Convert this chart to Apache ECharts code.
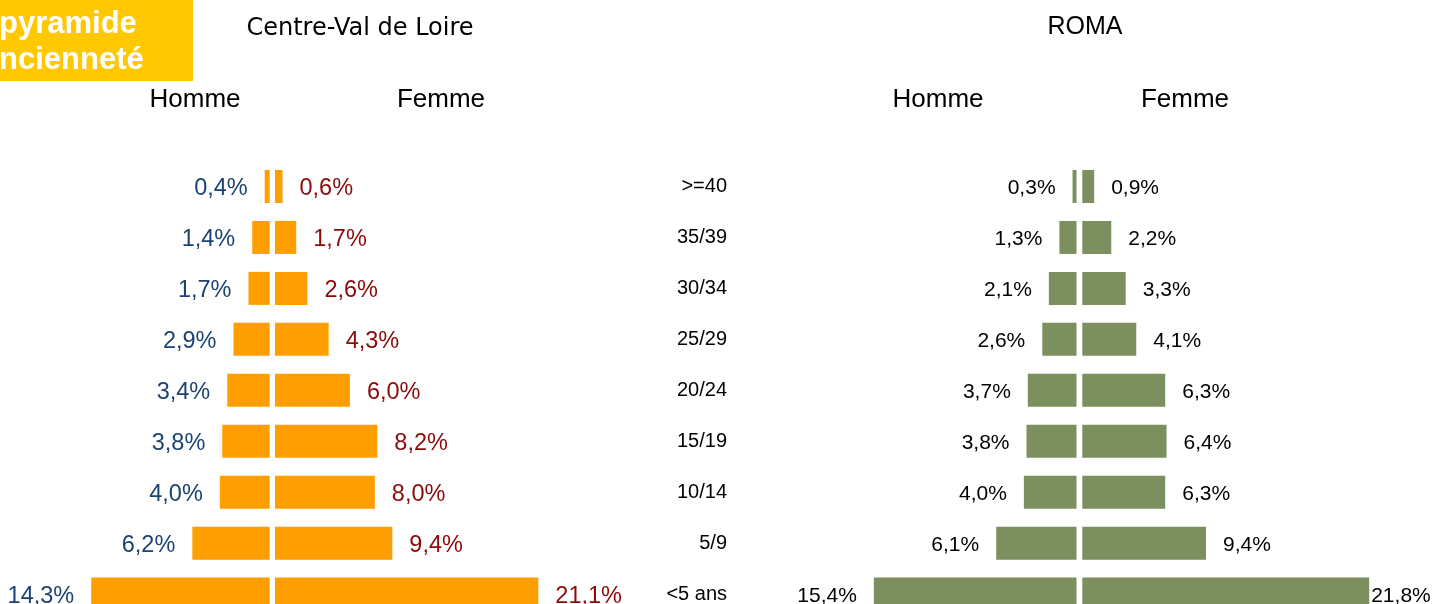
<html lang="fr">
<head>
  <meta charset="UTF-8">
  <title>pyramide ancienneté</title>
  <style>
    html, body { margin: 0; padding: 0; background: #fff; }
    #chart { width: 1449px; height: 604px; }
  </style>
</head>
<body>
  <div id="chart"></div>
  <script src="https://cdn.jsdelivr.net/npm/echarts@6/dist/echarts.min.js"></script>
  <script>
    var categories = ['>=40', '35/39', '30/34', '25/29', '20/24', '15/19', '10/14', '5/9', '<5 ans']
    var cvlHommes = [0.4, 1.4, 1.7, 2.9, 3.4, 3.8, 4.0, 6.2, 14.3]
    var cvlFemmes = [0.6, 1.7, 2.6, 4.3, 6.0, 8.2, 8.0, 9.4, 21.1]
    var romaHommes = [0.3, 1.3, 2.1, 2.6, 3.7, 3.8, 4.0, 6.1, 15.4]
    var romaFemmes = [0.9, 2.2, 3.3, 4.1, 6.3, 6.4, 6.3, 9.4, 21.8]

    var orange = '#FF9E00'
    var green = '#7B8F5F'

    function pct(p) {
      return p.value.toFixed(1).replace('.', ',') + '%'
    }

    // the last row is cut by the bottom edge, so the grids run past it
    var gridTop = 161, gridHeight = 458.6
    var grids = [
      { left: 20.1, width: 249.6 },
      { left: 275, width: 312 },
      { left: 813.3, width: 263.2 },
      { left: 1082.3, width: 329 }
    ].map(function (g) {
      g.top = gridTop
      g.height = gridHeight
      g.outerBoundsMode = 'none'
      return g
    })
    var maxes = [20, 25, 20, 25]

    var xAxes = grids.map(function (g, i) {
      return {
        type: 'value', gridIndex: i, min: 0, max: maxes[i],
        inverse: i % 2 === 0,
        show: false
      }
    })
    var yAxes = grids.map(function (g, i) {
      var ax = {
        type: 'category', gridIndex: i, data: categories, inverse: true,
        axisLine: { show: false }, axisTick: { show: false },
        axisLabel: { show: false }, splitLine: { show: false }
      }
      if (i === 1) {
        ax.position = 'right'
        ax.axisLabel = {
          show: true, align: 'right', margin: 140, padding: [4, 0, 0, 0],
          color: '#000', fontSize: 20, fontFamily: 'Liberation Sans'
        }
      }
      return ax
    })

    function barSeries(idx, data, color, labelColor, fontSize, side) {
      return {
        type: 'bar', xAxisIndex: idx, yAxisIndex: idx,
        data: data, barWidth: 33,
        itemStyle: { color: color },
        label: {
          show: true, position: side, distance: 17, offset: [0, 2],
          formatter: pct, color: labelColor, fontSize: fontSize,
          fontFamily: 'Liberation Sans'
        },
        silent: true
      }
    }

    var romaF = barSeries(3, romaFemmes, green, '#000', 21, 'right')
    // last label sits against the bar end in the original
    romaF.data = romaFemmes.map(function (v, i) {
      return i === romaFemmes.length - 1 ? { value: v, label: { distance: 2 } } : v
    })

    var headFont = '26px "Liberation Sans"'
    var option = {
      animation: false,
      grid: grids,
      xAxis: xAxes,
      yAxis: yAxes,
      series: [
        barSeries(0, cvlHommes, orange, '#1A4373', 23.5, 'left'),
        barSeries(1, cvlFemmes, orange, '#8B0A0A', 23.5, 'right'),
        barSeries(2, romaHommes, green, '#000', 21, 'left'),
        romaF
      ],
      graphic: [
        { type: 'rect', left: 0, top: 0, shape: { width: 193, height: 81 }, style: { fill: '#FFC800' } },
        { type: 'text', x: -1, y: 24, style: { text: 'pyramide', fill: '#fff', font: 'bold 31px "Liberation Sans"', verticalAlign: 'middle' } },
        { type: 'text', x: -1, y: 60, style: { text: 'ncienneté', fill: '#fff', font: 'bold 31px "Liberation Sans"', verticalAlign: 'middle' } },
        { type: 'text', x: 360, y: 29, style: { text: 'Centre-Val de Loire', fill: '#000', font: '24px "DejaVu Sans"', align: 'center', verticalAlign: 'middle' } },
        { type: 'text', x: 1085, y: 27, style: { text: 'ROMA', fill: '#000', font: '25px "Liberation Sans"', align: 'center', verticalAlign: 'middle' } },
        { type: 'text', x: 195, y: 100, style: { text: 'Homme', fill: '#000', font: headFont, align: 'center', verticalAlign: 'middle' } },
        { type: 'text', x: 441, y: 100, style: { text: 'Femme', fill: '#000', font: headFont, align: 'center', verticalAlign: 'middle' } },
        { type: 'text', x: 938, y: 100, style: { text: 'Homme', fill: '#000', font: headFont, align: 'center', verticalAlign: 'middle' } },
        { type: 'text', x: 1185, y: 100, style: { text: 'Femme', fill: '#000', font: headFont, align: 'center', verticalAlign: 'middle' } }
      ]
    }

    var chart = echarts.init(document.getElementById('chart'))
    chart.setOption(option)
  </script>
</body>
</html>
